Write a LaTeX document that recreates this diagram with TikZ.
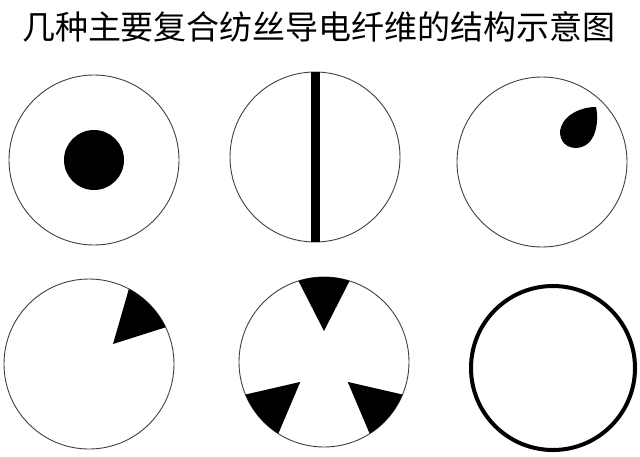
\documentclass[tikz,border=0pt]{standalone}
\usepackage{fontspec}
\newfontfamily\cjk{Noto Sans CJK SC}
\usetikzlibrary{calc}

\begin{document}
\begin{tikzpicture}[x=1pt, y=-1pt,
  fibre/.style={draw=black!75, line width=0.9pt},
  core/.style={fill=black}]
\useasboundingbox (0,0) rectangle (640,456);
\node[inner sep=0pt, font=\cjk\fontsize{33}{33}\selectfont] (title) at (319,27) {几种主要复合纺丝导电纤维的结构示意图};
% centres of the six cross sections
\coordinate (c1) at (94,160);
\coordinate (c2) at (315,157);
\coordinate (c3) at (542,162);
\coordinate (c4) at (89,364);
\coordinate (c5) at (324,362);
\coordinate (c6) at (553,368);
\draw[fibre] (c1) circle[radius=85];
\draw[fibre] (c2) circle[radius=85];
\draw[fibre] (c3) circle[radius=85];
\draw[fibre] (c4) circle[radius=85];
\draw[fibre] (c5) circle[radius=85];
\fill[core] (c1) circle[radius=30];
\fill[core] ($(c2)+(-4.5,-85)$) rectangle ($(c2)+(4.5,85)$);
\fill[core] (596,107) .. controls (599,120) and (597,147) .. (576,148) .. controls (562,148) and (558,135) .. (561,127) .. controls (565,115) and (580,107) .. (596,107) -- cycle;
\fill[core] (113,344) -- ($(c4)+(-62:85)$) arc[start angle=-62, end angle=-25.6, radius=85] -- cycle;
\foreach \a in {-90,40,140}
  \fill[core] ($(c5)+(\a:31)$) -- ($(c5)+(\a-17.5:85)$) arc[start angle=\a-17.5, end angle=\a+17.5, radius=85] -- cycle;
\draw[line width=4pt] (c6) circle[radius=82];
\end{tikzpicture}
\end{document}
